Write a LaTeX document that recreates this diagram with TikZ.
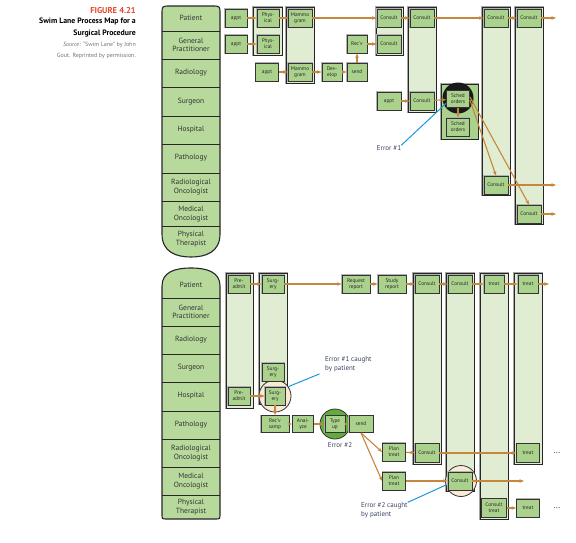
\documentclass[tikz,border=0pt]{standalone}
\usepackage{fontspec}
\setmainfont{PT Sans}
\usetikzlibrary{arrows.meta,positioning,calc}
\definecolor{lanegreen}{RGB}{183,217,156}
\definecolor{boxgreen}{RGB}{170,210,140}
\definecolor{colgreen}{RGB}{224,237,210}
\definecolor{flowbrown}{RGB}{198,134,62}
\definecolor{errblue}{RGB}{28,150,220}
\definecolor{errtext}{RGB}{55,65,95}
\definecolor{figred}{RGB}{226,72,42}
\definecolor{catchbeige}{RGB}{250,234,212}
\definecolor{typegreen}{RGB}{96,172,62}

\begin{document}
\begin{tikzpicture}[x=1pt,y=-1pt,
  lanelbl/.style={font=\fontsize{7.5}{8.5}\selectfont,align=center,
                  text=black!80,inner sep=0pt},
  lanecol/.style={fill=lanegreen,draw=black!85,line width=1.1pt},
  sep/.style={draw=black!85,line width=0.9pt},
  task/.style={draw=black!80,fill=boxgreen,line width=0.8pt,
               preaction={draw=black!30,line width=1.8pt},
               minimum width=22pt,minimum height=18pt,inner sep=0.5pt,
               font=\fontsize{5.3}{5.9}\selectfont,align=center,text=black!85},
  grp/.style={draw=black!85,fill=colgreen,line width=0.6pt,
              preaction={draw=black!35,line width=2.4pt}},
  flow/.style={-{Stealth[length=4.5pt,width=3.5pt]},line width=1.1pt,color=flowbrown},
  errln/.style={line width=1pt,color=errblue},
  errlbl/.style={font=\fontsize{7}{8.5}\selectfont,text=errtext,align=left,inner sep=0pt},
  catch/.style={circle,draw=black!80,line width=0.8pt,fill=catchbeige,
                minimum size=32pt,inner sep=0pt}
]
\useasboundingbox (0,0) rectangle (576,542);

\node[anchor=east,inner sep=0pt,font=\bfseries\fontsize{8.5}{9}\selectfont,
      text=figred] (figno) at (136,11) {FIGURE 4.21};
\node[anchor=north east,align=right,inner sep=0pt,
      font=\bfseries\fontsize{7.8}{12}\selectfont] (figttl) at (136,18)
      {Swim Lane Process Map for a\\Surgical Procedure};
\node[anchor=north east,align=right,inner sep=0pt,text=black!55,
      font=\fontsize{6}{11}\selectfont] (figsrc) at (136,42)
      {\textit{Source:} “Swim Lane” by John\\Gout. Reprinted by permission.};

% upper map
\draw[lanecol] (162,234) -- (162,14) .. controls (162,6) .. (170,6) -- (212,6)
  .. controls (220,6) .. (220,14) -- (220,234)
  .. controls (220,252) and (206,257) .. (191,257)
  .. controls (176,257) and (162,252) .. (162,234) -- cycle;
\foreach \y in {31,59,87,116,144,173,201,226}
  \draw[sep] (162,\y) -- (220,\y);
\node[lanelbl] (aPat)  at (191,18)  {Patient};
\node[lanelbl] (aGP)   at (191,45)  {General\\Practitioner};
\node[lanelbl] (aRad)  at (191,73)  {Radiology};
\node[lanelbl] (aSur)  at (191,102) {Surgeon};
\node[lanelbl] (aHos)  at (191,130) {Hospital};
\node[lanelbl] (aPath) at (191,158) {Pathology};
\node[lanelbl] (aRO)   at (191,187) {Radiological\\Oncologist};
\node[lanelbl] (aMO)   at (191,214) {Medical\\Oncologist};
\node[lanelbl] (aPT)   at (191,239) {Physical\\Therapist};

\draw[grp] (253,7) rectangle (282,55);
\draw[grp] (286,7) rectangle (314,83);
\draw[grp] (376,7) rectangle (403,55);
\draw[grp] (408,7) rectangle (436,112);
\draw[grp,fill=boxgreen] (441,84) rectangle (478,139);
\draw[grp] (482,7) rectangle (510,195);
\draw[grp] (515,7) rectangle (543,224);

\node[circle,fill=black!90,minimum size=31pt,inner sep=0pt] (aBlk) at (458,98) {};

\node[task] (aAppt1) at (236,18) {appt};
\node[task] (aAppt2) at (236,44) {appt};
\node[task] (aPhys1) at (268,18) {Phys-\\ical};
\node[task] (aPhys2) at (268,44) {Phys-\\ical};
\node[task,minimum width=24pt] (aMam1) at (300,18) {Mammo\\gram};
\node[task,minimum width=24pt] (aMam2) at (300,72) {Mammo\\gram};
\node[task,minimum width=23pt] (aAppt3) at (267,72) {appt};
\node[task,minimum width=20pt] (aDev)  at (332,72) {Dev-\\elop};
\node[task,minimum width=20pt] (aSend) at (357,72) {send};
\node[task,minimum width=20pt] (aRecv) at (357,44) {Rec'v};
\node[task,minimum width=24pt] (aCon1) at (389,18) {Consult};
\node[task,minimum width=24pt] (aCon2) at (389,44) {Consult};
\node[task,minimum width=24pt] (aCon3) at (422,18) {Consult};
\node[task,minimum width=24pt] (aAppt4) at (389,101) {appt};
\node[task,minimum width=24pt] (aCon4) at (422,101) {Consult};
\node[task,minimum width=23pt,minimum height=17pt] (aSch1) at (458,99) {Sched\\orders};
\node[task,minimum width=23pt] (aSch2) at (458,127) {Sched\\orders};
\node[task,minimum width=24pt] (aCon5) at (496,18) {Consult};
\node[task,minimum width=24pt] (aCon6) at (496,185) {Consult};
\node[task,minimum width=24pt] (aCon7) at (529,18) {Consult};
\node[task,minimum width=24pt] (aCon8) at (529,214) {Consult};
\coordinate (aOut1) at (556,18);
\coordinate (aOut6) at (556,185);
\coordinate (aOut8) at (556,214);

\draw[flow] (aAppt1) -- (aPhys1);
\draw[flow] (aAppt2) -- (aPhys2);
\draw[flow,-] (aPhys1) -- (aMam1);
\draw[flow] (aMam1) -- (aCon1);
\draw[flow] (aAppt3) -- (aMam2);
\draw[flow] (aMam2) -- (aDev);
\draw[flow] (aDev) -- (aSend);
\draw[flow] (aSend) -- (aRecv);
\draw[flow] (aRecv) -- (aCon2);
\draw[flow] (aCon1) -- (aCon3);
\draw[flow] (aCon3) -- (aCon5);
\draw[flow] (aCon5) -- (aCon7);
\draw[flow] (aCon7) -- (aOut1);
\draw[flow] (aAppt4) -- (aCon4);
\draw[flow] (aCon4) -- (aSch1);
\draw[flow] (aSch1) -- (aSch2);
\draw[flow] (aSch1.-5) -- (aCon6.north);
\draw[flow] (aSch1.10) -- (aCon8.north);
\draw[flow] (aCon6) -- (aOut6);
\draw[flow] (aCon8) -- (aOut8);

\node[errlbl] (aErr1) at (389,148) {Error \#1};
\draw[errln] (aErr1.north east) -- (aSch1.200);

% lower map
\draw[lanecol] (162,514) -- (162,286) .. controls (162,272) and (175,268) .. (191,268)
  .. controls (207,268) and (220,272) .. (220,286) -- (220,514)
  .. controls (220,519) .. (215,519) -- (167,519)
  .. controls (162,519) .. (162,514) -- cycle;
\foreach \y in {298,326,354,382,411,439,467,495}
  \draw[sep] (162,\y) -- (220,\y);
\node[lanelbl] (bPat)  at (191,285) {Patient};
\node[lanelbl] (bGP)   at (191,312) {General\\Practitioner};
\node[lanelbl] (bRad)  at (191,340) {Radiology};
\node[lanelbl] (bSur)  at (191,368) {Surgeon};
\node[lanelbl] (bHos)  at (191,396) {Hospital};
\node[lanelbl] (bPath) at (191,425) {Pathology};
\node[lanelbl] (bRO)   at (191,453) {Radiological\\Oncologist};
\node[lanelbl] (bMO)   at (191,481) {Medical\\Oncologist};
\node[lanelbl] (bPT)   at (191,507) {Physical\\Therapist};

\draw[grp] (226,273) rectangle (253,408);
\draw[grp] (259,273) rectangle (287,404);
\draw[grp] (413,273) rectangle (441,464);
\draw[grp] (446,273) rectangle (474,491);
\draw[grp] (480,273) rectangle (508,519);
\draw[grp] (514,273) rectangle (542,464);

\node[catch] (bSurgC) at (275,396) {};
\node[circle,draw=black!80,line width=0.8pt,fill=typegreen,minimum size=30pt,
      inner sep=0pt] (bTypeC) at (335,424) {};
\node[catch,minimum size=31pt] (bCon4C) at (461,481) {};

\node[task] (bPre1)  at (239,284) {Pre-\\admit};
\node[task] (bSurg1) at (273,284) {Surg-\\ery};
\node[task,minimum width=28pt] (bReq)   at (356,284) {Request\\report};
\node[task,minimum width=28pt] (bStudy) at (392,284) {Study\\report};
\node[task,minimum width=24pt] (bCon1)  at (427,284) {Consult};
\node[task,minimum width=24pt] (bCon2)  at (460,284) {Consult};
\node[task,minimum width=20pt] (bTreat1) at (494,284) {treat};
\node[task,minimum width=20pt] (bTreat2) at (528,284) {treat};
\node[task] (bSurg2) at (273,372) {Surg-\\ery};
\node[task] (bPre2)  at (239,396) {Pre-\\admit};
\node[task,minimum width=20pt] (bSurg3) at (275,396) {Surg-\\ery};
\node[task,minimum width=28pt,minimum height=17pt] (bRecv) at (275,424) {Rec'v\\samp};
\node[task,minimum width=21pt,minimum height=17pt] (bAnal) at (303,424) {Anal-\\yze};
\node[task,minimum width=20pt,minimum height=17pt] (bType) at (335,424) {Type\\up};
\node[task,minimum width=24pt,minimum height=17pt] (bSend) at (361,424) {send};
\node[task,minimum width=23pt] (bPlan1) at (394,452) {Plan\\treat};
\node[task,minimum width=23pt] (bPlan2) at (394,481) {Plan\\treat};
\node[task,minimum width=24pt,minimum height=19pt] (bCon3) at (427,453) {Consult};
\node[task,minimum width=24pt] (bCon4) at (460,481) {Consult};
\node[task,minimum width=25pt,minimum height=19pt] (bCT) at (494,508) {Consult\\treat};
\node[task,minimum width=23pt,minimum height=19pt] (bTreat3) at (528,453) {treat};
\node[task,minimum width=23pt] (bTreat4) at (528,508) {treat};
\node[font=\fontsize{8}{9}\selectfont,inner sep=0pt] (bDots1) at (557,453) {...};
\node[font=\fontsize{8}{9}\selectfont,inner sep=0pt] (bDots2) at (557,508) {...};
\coordinate (bOut1) at (549,284);
\coordinate (bOut4) at (524,481);

\draw[flow] (bPre1) -- (bSurg1);
\draw[flow] (bSurg1) -- (bReq);
\draw[flow] (bReq) -- (bStudy);
\draw[flow] (bStudy) -- (bCon1);
\draw[flow] (bCon1) -- (bCon2);
\draw[flow] (bCon2) -- (bTreat1);
\draw[flow] (bTreat1) -- (bTreat2);
\draw[flow] (bTreat2) -- (bOut1);
\draw[flow] (bPre2) -- (bSurg3);
\draw[flow] (bSurg3) -- (bRecv);
\draw[flow] (bRecv) -- (bAnal);
\draw[flow] (bAnal) -- (bType);
\draw[flow] (bType) -- (bSend);
\draw[flow] (bSend.south) -- (bPlan1.west);
\draw[flow] (bSend.south) -- (bPlan2.west);
\draw[flow] (bPlan1) -- (bCon3);
\draw[flow] (bCon3) -- (bTreat3);
\draw[flow] (bPlan2) -- (bCon4);
\draw[flow] (bCon4) -- (bOut4);
\draw[flow] (bCT) -- (bTreat4);

\node[errlbl,anchor=west] (bErr1) at (325,364) {Error \#1 caught\\by patient};
\draw[errln,shorten <=6pt] (bErr1.south west) -- (bSurgC.35);
\node[errlbl] (bErr2) at (340,445) {Error \#2};
\node[errlbl,anchor=west] (bErr2b) at (361,510) {Error \#2 caught\\by patient};
\draw[errln] (bErr2b.north east) -- (bCon4C.195);
\end{tikzpicture}
\end{document}
